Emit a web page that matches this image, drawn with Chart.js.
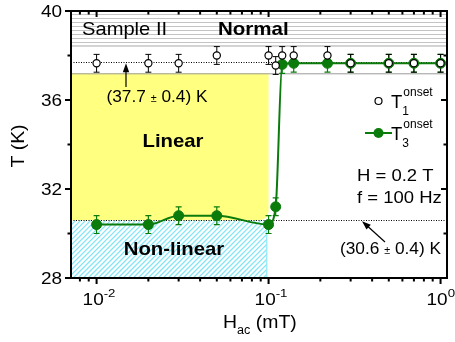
<!DOCTYPE html>
<html>
<head>
<meta charset="utf-8">
<script src="https://cdn.jsdelivr.net/npm/chart.js@4/dist/chart.umd.min.js"></script>
<style>
  html, body { margin: 0; padding: 0; background: #fff; }
  canvas { display: block; }
</style>
</head>
<body>
<canvas id="c" width="455" height="342"></canvas>
<script>
// Onset temperatures versus AC field amplitude (mT)
const fieldT1 = [0.01, 0.02, 0.03, 0.05, 0.1, 0.11, 0.12, 0.14, 0.22, 0.3, 0.5, 0.7, 1.0];
const tempT1  = [37.65, 37.65, 37.65, 38.0, 38.0, 37.55, 38.0, 38.0, 38.0, 37.65, 37.65, 37.65, 37.65];
const errT1   = [0.4, 0.4, 0.4, 0.4, 0.4, 0.4, 0.4, 0.4, 0.4, 0.4, 0.4, 0.4, 0.4];

const fieldT3 = [0.01, 0.02, 0.03, 0.05, 0.1, 0.11, 0.12, 0.14, 0.22, 0.3, 0.5, 0.7, 1.0];
const tempT3  = [30.4, 30.4, 30.8, 30.8, 30.4, 31.2, 37.6, 37.65, 37.65, 37.65, 37.65, 37.65, 37.65];
const errT3   = [0.4, 0.4, 0.4, 0.4, 0.4, 0.4, 0.4, 0.4, 0.4, 0.4, 0.4, 0.4, 0.4];

// Axis ticks
const yTickValues = [28, 32, 36, 40];
const yTickLabels = ['28', '32', '36', '40'];
const yMinorValues = [30, 34, 38];
const xTickValues = [0.01, 0.1, 1];
const xTickExponents = ['-2', '-1', '0'];

// Regime boundaries (K) and field limit (mT)
const normalBand = [38.45, 40];
const linearBand = [30.6, 37.2];
const nonLinearBand = [28, 30.6];
const linearFieldEdge = 0.1;
const nonLinearFieldEdge = 0.097;
const onsetLevels = [37.7, 30.6];

const GREEN = '#0b7b0b';
const FONT = '"Liberation Sans", Arial, Helvetica, sans-serif';

function fontStr(size, bold) {
  return (bold ? 'bold ' : '') + size + 'px ' + FONT;
}

// Draws a run of text segments left to right; returns the end x.
function drawRun(ctx, segs, x, y, sx) {
  let cx = x;
  for (const s of segs) {
    ctx.save();
    ctx.font = fontStr(s.size, s.bold);
    ctx.fillStyle = '#000';
    ctx.textBaseline = 'alphabetic';
    ctx.textAlign = 'left';
    ctx.translate(cx, y + (s.dy || 0));
    ctx.scale(sx, 1);
    ctx.fillText(s.t, 0, 0);
    cx += ctx.measureText(s.t).width * sx;
    ctx.restore();
  }
  return cx;
}

function runWidth(ctx, segs, sx) {
  let w = 0;
  for (const s of segs) {
    ctx.save();
    ctx.font = fontStr(s.size, s.bold);
    w += ctx.measureText(s.t).width * sx;
    ctx.restore();
  }
  return w;
}

function arrow(ctx, x1, y1, x2, y2) {
  const ang = Math.atan2(y2 - y1, x2 - x1);
  const hl = 9, hw = 3.2;
  ctx.save();
  ctx.strokeStyle = '#000';
  ctx.fillStyle = '#000';
  ctx.lineWidth = 1.2;
  ctx.beginPath();
  ctx.moveTo(x1, y1);
  ctx.lineTo(x2 - Math.cos(ang) * hl * 0.8, y2 - Math.sin(ang) * hl * 0.8);
  ctx.stroke();
  ctx.beginPath();
  ctx.moveTo(x2, y2);
  ctx.lineTo(x2 - Math.cos(ang) * hl + Math.sin(ang) * hw, y2 - Math.sin(ang) * hl - Math.cos(ang) * hw);
  ctx.lineTo(x2 - Math.cos(ang) * hl - Math.sin(ang) * hw, y2 - Math.sin(ang) * hl + Math.cos(ang) * hw);
  ctx.closePath();
  ctx.fill();
  ctx.restore();
}

function errorBars(ctx, xs, ys, es, xScale, yScale, color, lw) {
  ctx.save();
  ctx.strokeStyle = color;
  ctx.lineWidth = lw;
  for (let i = 0; i < xs.length; i++) {
    const px = xScale.getPixelForValue(xs[i]);
    const lo = yScale.getPixelForValue(ys[i] - es[i]);
    const hi = yScale.getPixelForValue(ys[i] + es[i]);
    ctx.beginPath();
    ctx.moveTo(px, lo); ctx.lineTo(px, hi);
    ctx.moveTo(px - 3, lo); ctx.lineTo(px + 3, lo);
    ctx.moveTo(px - 3, hi); ctx.lineTo(px + 3, hi);
    ctx.stroke();
  }
  ctx.restore();
}

// Shaded regimes, reference levels and error bars, drawn under the markers
const regimePlugin = {
  id: 'regimes',
  beforeDatasetsDraw(chart) {
    const { ctx, chartArea: a, scales: { x, y } } = chart;
    ctx.save();

    // Normal state: horizontal grey hatching
    const nTop = y.getPixelForValue(normalBand[1]);
    const nBot = y.getPixelForValue(normalBand[0]);
    ctx.strokeStyle = '#c4c4c4';
    ctx.lineWidth = 1;
    for (let yy = nTop + 3.5; yy < nBot; yy += 4) {
      ctx.beginPath(); ctx.moveTo(a.left, yy); ctx.lineTo(a.right, yy); ctx.stroke();
    }
    ctx.strokeStyle = '#a8a8a8';
    ctx.beginPath(); ctx.moveTo(a.left, nBot + 0.5); ctx.lineTo(a.right, nBot + 0.5); ctx.stroke();

    // Linear regime: yellow block
    const lx = x.getPixelForValue(linearFieldEdge);
    const lt = y.getPixelForValue(linearBand[1]);
    const lb = y.getPixelForValue(linearBand[0]);
    ctx.fillStyle = '#ffff80';
    ctx.beginPath();
    ctx.roundRect(a.left, lt, lx - a.left, lb - lt, [0, 0, 9, 0]);
    ctx.fill();

    // Non-linear regime: cyan diagonal hatching
    const cx = x.getPixelForValue(nonLinearFieldEdge);
    const ct = y.getPixelForValue(nonLinearBand[1]);
    const cb = y.getPixelForValue(nonLinearBand[0]);
    ctx.save();
    ctx.beginPath();
    ctx.rect(a.left, ct, cx - a.left, cb - ct);
    ctx.clip();
    ctx.strokeStyle = 'rgba(90,220,240,0.75)';
    ctx.lineWidth = 1.3;
    const h = cb - ct;
    for (let xx = a.left - h; xx < cx + 5; xx += 5) {
      ctx.beginPath(); ctx.moveTo(xx, cb); ctx.lineTo(xx + h, ct); ctx.stroke();
    }
    ctx.restore();
    ctx.strokeStyle = 'rgba(90,220,240,0.8)';
    ctx.lineWidth = 1;
    ctx.beginPath(); ctx.moveTo(cx + 0.5, ct); ctx.lineTo(cx + 0.5, cb); ctx.stroke();

    // Thin grey edge at the top of the linear band
    ctx.strokeStyle = '#9a9a9a';
    ctx.lineWidth = 1;
    ctx.beginPath(); ctx.moveTo(a.left, lt + 0.5); ctx.lineTo(a.right, lt + 0.5); ctx.stroke();

    // Dotted onset levels
    ctx.strokeStyle = '#000';
    ctx.lineWidth = 1;
    ctx.setLineDash([1, 1.5]);
    for (const v of onsetLevels) {
      const py = Math.round(y.getPixelForValue(v)) + 0.5;
      ctx.beginPath(); ctx.moveTo(a.left, py); ctx.lineTo(a.right, py); ctx.stroke();
    }
    ctx.setLineDash([]);
    ctx.restore();

    errorBars(ctx, fieldT3, tempT3, errT3, x, y, GREEN, 1.2);
    errorBars(ctx, fieldT1, tempT1, errT1, x, y, '#000', 1);
  }
};

// Frame, ticks, labels, annotations and legend
const framePlugin = {
  id: 'frame',
  afterDraw(chart) {
    const { ctx, chartArea: a, scales: { x, y } } = chart;
    ctx.save();
    ctx.strokeStyle = '#000';
    ctx.lineWidth = 2;
    ctx.strokeRect(a.left, a.top, a.right - a.left, a.bottom - a.top);

    // Y ticks: outward on the left, inward on the right
    ctx.lineWidth = 2;
    const yTick = (v, len) => {
      const py = y.getPixelForValue(v);
      ctx.beginPath();
      ctx.moveTo(a.left - len, py); ctx.lineTo(a.left, py);
      ctx.moveTo(a.right, py); ctx.lineTo(a.right - len, py);
      ctx.stroke();
    };
    yTickValues.forEach(v => yTick(v, 6));
    yMinorValues.forEach(v => yTick(v, 3.5));

    // X ticks: outward at the bottom, inward at the top
    const xTick = (v, len) => {
      const px = x.getPixelForValue(v);
      ctx.beginPath();
      ctx.moveTo(px, a.bottom); ctx.lineTo(px, a.bottom + len);
      ctx.moveTo(px, a.top); ctx.lineTo(px, a.top + len);
      ctx.stroke();
    };
    xTickValues.forEach(v => xTick(v, 6));
    for (let d = -3; d <= 0; d++) {
      for (let k = 2; k <= 9; k++) {
        const v = k * Math.pow(10, d);
        if (v > x.min && v < x.max) xTick(v, 3.5);
      }
    }
    ctx.restore();

    // Y tick labels
    yTickValues.forEach((v, i) => {
      const segs = [{ t: yTickLabels[i], size: 16.5 }];
      const w = runWidth(ctx, segs, 1.15);
      drawRun(ctx, segs, 62 - w, y.getPixelForValue(v) + 6, 1.15);
    });

    // X tick labels as powers of ten
    xTickValues.forEach((v, i) => {
      const px = x.getPixelForValue(v);
      drawRun(ctx, [
        { t: '10', size: 16.5 },
        { t: xTickExponents[i], size: 11.5, dy: -8 }
      ], px - 14, 305, 1.15);
    });

    // Axis titles
    drawRun(ctx, [
      { t: 'H', size: 18.5 },
      { t: 'ac', size: 12, dy: 6 },
      { t: ' (mT)', size: 18.5 }
    ], 223, 328, 1.05);

    ctx.save();
    ctx.translate(24, 146);
    ctx.rotate(-Math.PI / 2);
    const yt = [{ t: 'T (K)', size: 18.5 }];
    const ytw = runWidth(ctx, yt, 1.05);
    drawRun(ctx, yt, -ytw / 2, 0, 1.05);
    ctx.restore();

    // Regime labels
    drawRun(ctx, [{ t: 'Sample II', size: 19 }], 82, 35, 1.06);
    drawRun(ctx, [{ t: 'Normal', size: 19, bold: true }], 218, 35, 1.08);
    const lin = [{ t: 'Linear', size: 19, bold: true }];
    drawRun(ctx, lin, 173 - runWidth(ctx, lin, 1.07) / 2, 147, 1.07);
    const non = [{ t: 'Non-linear', size: 19, bold: true }];
    drawRun(ctx, non, 174 - runWidth(ctx, non, 1.07) / 2, 255, 1.07);

    // Onset level annotations
    drawRun(ctx, [
      { t: '(37.7 ', size: 16 }, { t: '\u00B1', size: 10 }, { t: ' 0.4) K', size: 16 }
    ], 106.5, 102, 1.08);
    arrow(ctx, 126, 87, 126, y.getPixelForValue(onsetLevels[0]) + 1);

    drawRun(ctx, [
      { t: '(30.6 ', size: 16 }, { t: '\u00B1', size: 10 }, { t: ' 0.4) K', size: 16 }
    ], 340, 254, 1.08);
    arrow(ctx, 385, 242, 362, y.getPixelForValue(onsetLevels[1]) + 1);

    // Measurement conditions
    drawRun(ctx, [{ t: 'H = 0.2 T', size: 16.5 }], 357, 181, 1.12);
    drawRun(ctx, [{ t: 'f = 100 Hz', size: 16.5 }], 357, 203, 1.12);

    // Legend
    ctx.save();
    ctx.lineWidth = 1.2;
    ctx.strokeStyle = '#000';
    ctx.fillStyle = '#fff';
    ctx.beginPath(); ctx.arc(378.5, 101, 3.5, 0, Math.PI * 2); ctx.fill(); ctx.stroke();
    ctx.strokeStyle = GREEN;
    ctx.lineWidth = 2;
    ctx.beginPath(); ctx.moveTo(365, 133); ctx.lineTo(392, 133); ctx.stroke();
    ctx.fillStyle = GREEN;
    ctx.beginPath(); ctx.arc(378.5, 133, 5, 0, Math.PI * 2); ctx.fill();
    ctx.restore();

    const legendRow = (sub, base) => {
      const ex = drawRun(ctx, [{ t: 'T', size: 18.5 }], 391, base, 1.0);
      drawRun(ctx, [{ t: 'onset', size: 12 }], ex + 1, base - 12, 1.0);
      drawRun(ctx, [{ t: sub, size: 12 }], ex, base + 7, 1.0);
    };
    legendRow('1', 107.5);
    legendRow('3', 140);
  }
};

const ctx = document.getElementById('c').getContext('2d');
new Chart(ctx, {
  type: 'line',
  data: {
    datasets: [
      {
        label: 'T1 onset',
        data: fieldT1.map((f, i) => ({ x: f, y: tempT1[i] })),
        showLine: false,
        pointRadius: 3.6,
        pointBackgroundColor: '#fff',
        pointBorderColor: '#000',
        pointBorderWidth: 1.2,
        order: 0
      },
      {
        label: 'T3 onset',
        data: fieldT3.map((f, i) => ({ x: f, y: tempT3[i] })),
        borderColor: GREEN,
        borderWidth: 2,
        cubicInterpolationMode: 'monotone',
        pointRadius: 5,
        pointBackgroundColor: GREEN,
        pointBorderColor: GREEN,
        pointBorderWidth: 1,
        order: 1
      }
    ]
  },
  options: {
    responsive: false,
    animation: false,
    devicePixelRatio: 1,
    layout: { padding: { top: 11, right: 8, left: 0, bottom: 0 } },
    plugins: { legend: { display: false }, tooltip: { enabled: false } },
    scales: {
      x: {
        type: 'logarithmic',
        min: 0.0071,
        max: 1.09,
        grid: { display: false },
        border: { display: false },
        ticks: { display: false },
        afterFit(s) { s.height = 64; }
      },
      y: {
        type: 'linear',
        min: 28,
        max: 40,
        grid: { display: false },
        border: { display: false },
        ticks: { display: false },
        afterFit(s) { s.width = 71; }
      }
    }
  },
  plugins: [regimePlugin, framePlugin]
});
</script>
</body>
</html>
